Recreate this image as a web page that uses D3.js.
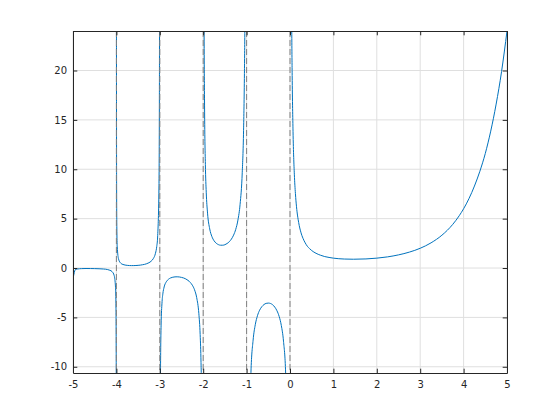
<!DOCTYPE html>
<html>
<head>
<meta charset="utf-8">
<script src="https://cdn.jsdelivr.net/npm/d3@7"></script>
<style>
  body { margin: 0; background: #fff; }
  text { font-family: "DejaVu Sans", sans-serif; font-size: 10px; fill: #262626; }
</style>
</head>
<body>
<svg width="560" height="420"></svg>
<script>
// branches of the curve between the poles as [x, y]
var branch1 = [[-4.9995, -1.0], [-4.99, -0.85], [-4.95, -0.18], [-4.9, -0.10], [-4.8, -0.06], [-4.7, -0.05], [-4.6, -0.054],
  [-4.5, -0.06], [-4.4, -0.074], [-4.3, -0.10], [-4.2, -0.16], [-4.15, -0.23], [-4.1, -0.36], [-4.05, -0.78], [-4.02, -2.0],
  [-4.01, -4.1], [-4.005, -8.3], [-4.002, -20.8], [-4.001, -40]];
var branch2 = [[-3.999, 42], [-3.998, 21], [-3.995, 8.4], [-3.99, 4.2], [-3.98, 2.15], [-3.95, 0.9], [-3.9, 0.49], [-3.85, 0.36],
  [-3.8, 0.30], [-3.75, 0.268], [-3.7, 0.25], [-3.65, 0.245], [-3.6, 0.247], [-3.55, 0.255], [-3.5, 0.27], [-3.45, 0.293],
  [-3.4, 0.33], [-3.35, 0.372], [-3.3, 0.44], [-3.25, 0.536], [-3.2, 0.69], [-3.15, 0.95], [-3.1, 1.49], [-3.07, 2.19],
  [-3.05, 3.14], [-3.02, 8.1], [-3.01, 16.5], [-3.007, 23.5], [-3.004, 40]];
var branch3 = [[-2.996, -40], [-2.99, -16.6], [-2.985, -11.3], [-2.98, -8.55], [-2.97, -5.78], [-2.95, -3.56], [-2.93, -2.62],
  [-2.9, -1.92], [-2.85, -1.39], [-2.8, -1.14], [-2.75, -1.0], [-2.7, -0.93], [-2.65, -0.896], [-2.6, -0.89], [-2.55, -0.906],
  [-2.5, -0.95], [-2.45, -1.01], [-2.4, -1.11], [-2.35, -1.25], [-2.3, -1.45], [-2.25, -1.74], [-2.2, -2.2], [-2.15, -3.0],
  [-2.1, -4.63], [-2.07, -6.74], [-2.05, -9.58], [-2.04, -12], [-2.02, -25]];
var branch4 = [[-1.99, 50], [-1.98, 25.5], [-1.97, 17.2], [-1.95, 10.5], [-1.93, 7.68], [-1.9, 5.56], [-1.85, 3.96],
  [-1.8, 3.19], [-1.75, 2.76], [-1.7, 2.51], [-1.65, 2.37], [-1.6, 2.31], [-1.55, 2.31], [-1.5, 2.36], [-1.45, 2.48],
  [-1.4, 2.66], [-1.35, 2.93], [-1.3, 3.33], [-1.25, 3.92], [-1.2, 4.85], [-1.15, 6.45], [-1.1, 9.7], [-1.07, 13.9],
  [-1.05, 19.7], [-1.04, 24.6], [-1.02, 50]];
var branch5 = [[-0.97, -32], [-0.95, -20.5], [-0.9, -10.6], [-0.85, -7.3], [-0.8, -5.74], [-0.75, -4.83], [-0.7, -4.27],
  [-0.65, -3.92], [-0.6, -3.7], [-0.55, -3.58], [-0.5, -3.55], [-0.45, -3.59], [-0.4, -3.72], [-0.35, -3.96], [-0.3, -4.33],
  [-0.25, -4.9], [-0.2, -5.82], [-0.15, -7.4], [-0.1, -10.7], [-0.05, -20.5], [-0.02, -50]];
var branch6 = [[0.02, 49.4], [0.04, 24.5], [0.05, 19.5], [0.07, 13.8], [0.1, 9.5], [0.125, 7.53], [0.15, 6.2], [0.2, 4.6],
  [0.25, 3.63], [0.3, 3.0], [0.35, 2.55], [0.4, 2.2], [0.45, 1.97], [0.5, 1.77], [0.6, 1.49], [0.7, 1.3], [0.8, 1.16],
  [0.9, 1.07], [1, 1.0], [1.25, 0.91], [1.46, 0.89], [1.75, 0.92], [2, 1.0], [2.25, 1.13], [2.5, 1.33], [2.75, 1.61],
  [3, 2.0], [3.25, 2.55], [3.5, 3.32], [3.75, 4.42], [3.9, 5.3], [4, 6.0], [4.125, 7.04], [4.25, 8.3], [4.375, 9.8],
  [4.5, 11.6], [4.625, 13.86], [4.75, 16.6], [4.875, 19.9], [5, 24]];
var branches = [branch1, branch2, branch3, branch4, branch5, branch6];
var poles = [-4, -3, -2, -1, 0];
var xTicks = [-5, -4, -3, -2, -1, 0, 1, 2, 3, 4, 5];
var yTicks = [-10, -5, 0, 5, 10, 15, 20];

var pl = 73, pr = 507, pt = 31, pb = 373;

var x = d3.scaleLinear().domain([-5, 5]).range([pl, pr]);
var y = d3.scaleLinear().domain([-10.63, 24]).range([pb, pt]);

var svg = d3.select("svg");

svg.append("defs").append("clipPath").attr("id", "clip")
  .append("rect").attr("x", pl).attr("y", pt).attr("width", pr - pl).attr("height", pb - pt);

// grid
svg.append("g").selectAll("line").data(xTicks).enter().append("line")
  .attr("x1", function(d) { return x(d); }).attr("x2", function(d) { return x(d); })
  .attr("y1", pt).attr("y2", pb)
  .attr("stroke", "#dfdfdf").attr("stroke-width", 1);
svg.append("g").selectAll("line").data(yTicks).enter().append("line")
  .attr("y1", function(d) { return y(d); }).attr("y2", function(d) { return y(d); })
  .attr("x1", pl).attr("x2", pr)
  .attr("stroke", "#dfdfdf").attr("stroke-width", 1);

var line = d3.line()
  .curve(d3.curveMonotoneX)
  .x(function(d) { return x(d[0]); })
  .y(function(d) { return y(d[1]); });

var plot = svg.append("g").attr("clip-path", "url(#clip)");

plot.selectAll("path.curve").data(branches).enter().append("path")
  .attr("class", "curve")
  .attr("d", line)
  .attr("fill", "none")
  .attr("stroke", "#0072bd")
  .attr("stroke-width", 1);

// asymptotes
plot.selectAll("line.pole").data(poles).enter().append("line")
  .attr("class", "pole")
  .attr("x1", function(d) { return x(d); }).attr("x2", function(d) { return x(d); })
  .attr("y1", pt).attr("y2", pb)
  .attr("stroke", "#808080").attr("stroke-width", 1)
  .attr("stroke-dasharray", "6,3");

// axes (box with inward ticks)
var tl = 4.3;
var xb = svg.append("g").attr("transform", "translate(0," + pb + ")")
  .call(d3.axisBottom(x).tickValues(xTicks).tickSizeInner(-tl).tickSizeOuter(0).tickPadding(8));
var xt = svg.append("g").attr("transform", "translate(0," + pt + ")")
  .call(d3.axisTop(x).tickValues(xTicks).tickSizeInner(-tl).tickSizeOuter(0).tickFormat(""));
var yl = svg.append("g").attr("transform", "translate(" + pl + ",0)")
  .call(d3.axisLeft(y).tickValues(yTicks).tickSizeInner(-tl).tickSizeOuter(0).tickPadding(6));
var yr = svg.append("g").attr("transform", "translate(" + pr + ",0)")
  .call(d3.axisRight(y).tickValues(yTicks).tickSizeInner(-tl).tickSizeOuter(0).tickFormat(""));

[xb, xt, yl, yr].forEach(function(g) {
  g.select(".domain").attr("stroke", "#262626").attr("stroke-width", 1);
  g.selectAll(".tick line").attr("stroke", "#262626");
  g.selectAll(".tick text").attr("fill", "#262626").style("font-family", "DejaVu Sans, sans-serif").style("font-size", "10px");
});
// plain hyphen minus, as in the reference
xb.selectAll(".tick text").text(function(d) { return String(d); });
yl.selectAll(".tick text").text(function(d) { return String(d); });
</script>
</body>
</html>
